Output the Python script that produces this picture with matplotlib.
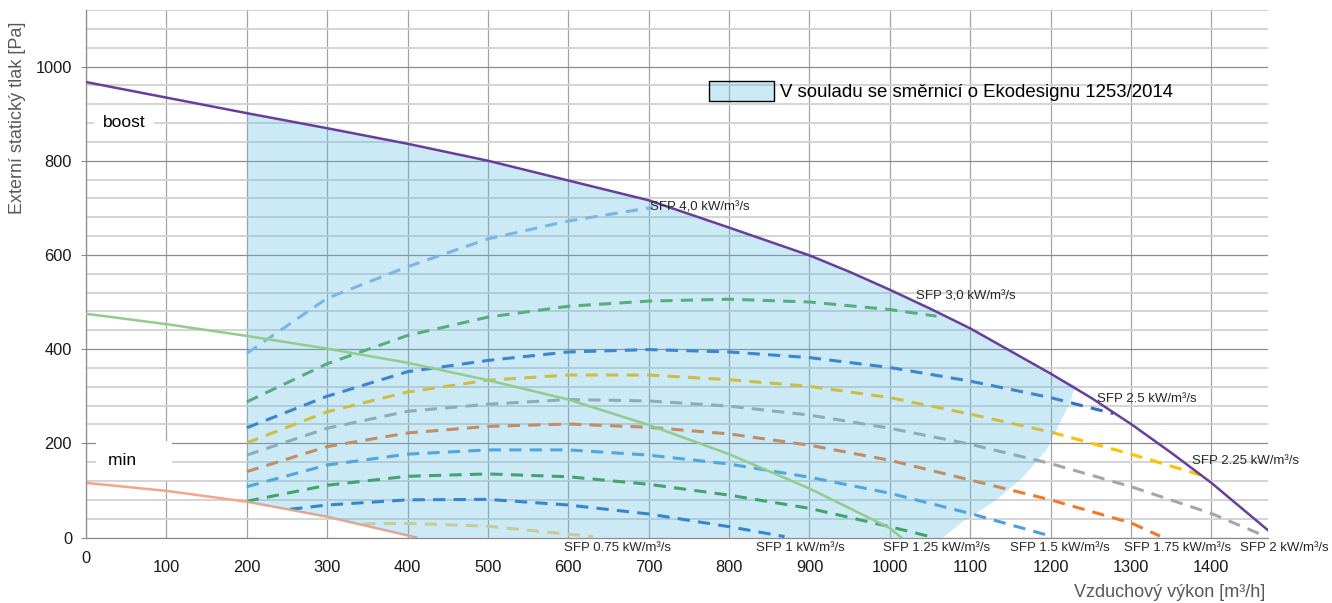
import numpy as np
import matplotlib.pyplot as plt
from matplotlib.patches import Patch
from matplotlib.ticker import MultipleLocator
from matplotlib.colors import to_rgba

plt.rcParams['font.family'] = ['Liberation Sans', 'DejaVu Sans']

# pracovní křivky ventilátoru
boost_x = [0, 100, 200, 300, 400, 500, 600, 700, 800, 900, 950, 1000, 1050, 1100, 1150,
           1200, 1250, 1300, 1350, 1400, 1470]
boost_y = [967, 934, 901, 869, 836, 800, 758, 716, 658, 599, 564, 526, 486, 444, 396,
           348, 297, 241, 180, 116, 16]

mid_x = [0, 100, 200, 300, 400, 500, 600, 700, 800, 900, 1000, 1014]
mid_y = [475, 453, 428, 401, 371, 334, 293, 239, 177, 104, 20, 0]

min_x = [0, 100, 200, 300, 411]
min_y = [116, 99, 76, 44, 0]

# SFP izolinie
sfp4_x = [200, 300, 400, 500, 600, 705]
sfp4_y = [391, 508, 575, 634, 672, 701]
sfp3_x = [200, 300, 400, 500, 600, 700, 800, 900, 1000, 1058]
sfp3_y = [288, 369, 429, 468, 491, 502, 506, 500, 484, 470]
sfp25_x = [200, 300, 400, 500, 600, 700, 800, 900, 1000, 1100, 1200, 1278]
sfp25_y = [233, 300, 352, 376, 394, 399, 394, 382, 361, 332, 297, 263]
sfp225_x = [200, 300, 400, 500, 600, 700, 800, 900, 1000, 1100, 1200, 1300, 1386]
sfp225_y = [201, 267, 309, 334, 345, 345, 335, 321, 297, 262, 224, 177, 133]
sfp2_x = [200, 300, 400, 500, 600, 700, 800, 900, 1000, 1100, 1200, 1300, 1400, 1468]
sfp2_y = [175, 232, 268, 283, 293, 290, 279, 260, 232, 198, 157, 108, 51, 2]
sfp175_x = [200, 300, 400, 500, 600, 700, 800, 900, 1000, 1100, 1200, 1300, 1336]
sfp175_y = [140, 193, 222, 236, 241, 234, 220, 196, 164, 122, 80, 31, 3]
sfp15_x = [200, 300, 400, 500, 600, 700, 800, 900, 1000, 1100, 1200]
sfp15_y = [108, 154, 177, 186, 186, 175, 156, 128, 94, 51, 3]
sfp125_x = [200, 300, 400, 500, 600, 700, 800, 900, 1000, 1050]
sfp125_y = [77, 111, 130, 135, 129, 113, 90, 62, 23, 2]
sfp1_x = [254, 300, 400, 500, 600, 700, 800, 869]
sfp1_y = [60, 69, 80, 81, 69, 50, 23, 2]
sfp075_x = [345, 400, 500, 600, 631]
sfp075_y = [29, 30, 24, 7, 2]

# pravý okraj oblasti Ekodesign
edge_x = [1232, 1228, 1224, 1211, 1195, 1166, 1133, 1091, 1066]
edge_y = [322, 309, 285, 242, 186, 129, 80, 34, 0]

sfp_curves = [
    (sfp4_x, sfp4_y, '#8ab6e6'),
    (sfp3_x, sfp3_y, '#55aa50'),
    (sfp25_x, sfp25_y, '#2f70c4'),
    (sfp225_x, sfp225_y, '#ffc000'),
    (sfp2_x, sfp2_y, '#a6a6a6'),
    (sfp175_x, sfp175_y, '#f07a2a'),
    (sfp15_x, sfp15_y, '#4e9fdc'),
    (sfp125_x, sfp125_y, '#3a9a3a'),
    (sfp1_x, sfp1_y, '#2a6fc0'),
    (sfp075_x, sfp075_y, '#f8d27a'),
]

sfp_labels = ['SFP 4,0 kW/m³/s', 'SFP 3,0 kW/m³/s', 'SFP 2.5 kW/m³/s', 'SFP 2.25 kW/m³/s',
              'SFP 0.75 kW/m³/s', 'SFP 1 kW/m³/s', 'SFP 1.25 kW/m³/s', 'SFP 1.5 kW/m³/s',
              'SFP 1.75 kW/m³/s', 'SFP 2 kW/m³/s']
label_x = [701, 1032, 1258, 1376, 594, 833, 992, 1149, 1291, 1436]
label_y = [700, 511, 295, 163, -22, -22, -22, -22, -22, -22]

fill_color = '#58b9e4'

fig = plt.figure(figsize=(13.32, 6.03), dpi=100)
ax = fig.add_axes([0.0646, 0.1086, 0.8871, 0.8748])

# čárkované SFP křivky
for xs, ys, c in sfp_curves:
    ax.plot(xs, ys, color=c, lw=2.2, linestyle=(0, (4, 2.7)), zorder=2)

ax.plot(min_x, min_y, color='#f5a58a', lw=1.8, zorder=2)

# oblast v souladu se směrnicí
top_x = [x for x in boost_x if 200 <= x <= 1200]
top_y = [y for x, y in zip(boost_x, boost_y) if 200 <= x <= 1200]
poly_x = top_x + edge_x + [min_x[-1], min_x[3], min_x[2]]
poly_y = top_y + edge_y + [min_y[-1], min_y[3], min_y[2]]
ax.fill(poly_x, poly_y, color=fill_color, alpha=0.3, lw=0, zorder=3)

ax.plot(mid_x, mid_y, color='#92cc8c', lw=1.8, zorder=4)
ax.plot(boost_x, boost_y, color='#6a3d9a', lw=1.8, zorder=5)

for txt, lx, ly in zip(sfp_labels, label_x, label_y):
    ax.text(lx, ly, txt, fontsize=9.5, color='#262626', ha='left', va='center', zorder=6)

ax.text(21, 881, 'boost', fontsize=12.5, ha='left', va='center', zorder=6,
        bbox=dict(boxstyle='square,pad=0.5', fc='white', ec='none'))
ax.text(27, 164, 'min     ', fontsize=12.5, ha='left', va='center', zorder=6,
        bbox=dict(boxstyle='square,pad=0.7', fc='white', ec='none'))

ax.set_xlim(0, 1470)
ax.set_ylim(0, 1120)
ax.set_xticks(np.arange(0, 1401, 100))
ax.set_yticks(np.arange(0, 1001, 200))
ax.yaxis.set_minor_locator(MultipleLocator(40))
ax.set_axisbelow(True)
ax.yaxis.grid(True, which='major', color='#8c8c8c', lw=0.9)
ax.yaxis.grid(True, which='minor', color='#d4d4d4', lw=1.4)
ax.xaxis.grid(True, which='major', color='#a3a3a3', lw=0.9)

ax.tick_params(axis='x', length=0, pad=16, labelsize=11.8, labelcolor='#1a1a1a')
ax.tick_params(axis='y', which='major', length=3.6, pad=6.5, color='#8c8c8c',
               labelsize=11.8, labelcolor='#1a1a1a')
ax.tick_params(axis='y', which='minor', length=0)
xt = ax.xaxis.get_major_ticks()
xt[0].set_pad(9.5)

for s in ['top', 'right']:
    ax.spines[s].set_visible(False)
for s in ['left', 'bottom']:
    ax.spines[s].set_color('#8c8c8c')
    ax.spines[s].set_linewidth(0.9)

handle = Patch(facecolor=to_rgba(fill_color, 0.3), edgecolor='black', lw=1)
ax.legend([handle], ['V souladu se směrnicí o Ekodesignu 1253/2014'], loc='center left',
          bbox_to_anchor=(0.527, 0.846), frameon=False, fontsize=13.4,
          handlelength=3.5, handleheight=1.25, handletextpad=0.35,
          borderpad=0, borderaxespad=0)

fig.text(0.950, 0.0166, 'Vzduchový výkon [m³/h]', fontsize=13, color='#595959',
         ha='right', va='center')
fig.text(0.0135, 0.805, 'Externí statický tlak [Pa]', fontsize=13, color='#595959',
         rotation=90, ha='center', va='center')

fig.savefig('out.png', dpi=100)
